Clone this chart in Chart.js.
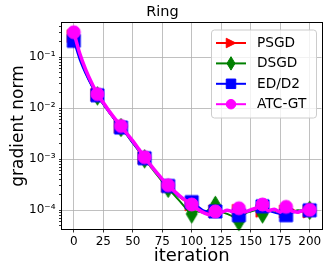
<!DOCTYPE html>
<html>
<head>
<meta charset="utf-8">
<script src="https://cdn.jsdelivr.net/npm/chart.js@4"></script>
<style>
  html, body { margin: 0; padding: 0; background: #fff; }
</style>
</head>
<body>
<canvas id="chart" width="332" height="275"></canvas>
<script>
// iterations sampled every 5 steps, markers every 20
const iterations = [0, 5, 10, 15, 20, 25, 30, 35, 40, 45, 50, 55, 60, 65, 70, 75, 80, 85, 90, 95, 100,
  105, 110, 115, 120, 125, 130, 135, 140, 145, 150, 155, 160, 165, 170, 175, 180, 185, 190, 195, 200];

const psgd = [0.26, 0.105, 0.052, 0.03, 0.0185, 0.0125, 0.0086, 0.006, 0.0044, 0.0031, 0.0022, 0.00155, 0.00108, 0.00077, 0.00055, 0.0004, 0.0003, 0.00023, 0.00018, 0.00015, 0.00013,
  0.000108, 0.000095, 0.000092, 0.000096, 0.000093, 0.0001, 0.000094, 0.000098, 0.000092, 0.0001, 0.000105, 0.000098, 0.000102, 0.0001, 0.00009, 0.000095, 0.000105, 0.00009, 0.000096, 0.000095];
const dsgd = [0.24, 0.1, 0.05, 0.029, 0.0175, 0.012, 0.0083, 0.0058, 0.0042, 0.003, 0.0021, 0.00148, 0.00102, 0.00072, 0.00051, 0.00037, 0.00027, 0.0002, 0.00015, 0.00011, 0.000085,
  0.000095, 0.00009, 0.000105, 0.000125, 0.000095, 0.000085, 0.000075, 0.00006, 0.000085, 0.000095, 0.0001, 0.000085, 0.000095, 0.0001, 0.000095, 0.0001, 0.000095, 0.0001, 0.000098, 0.0001];
const edd2 = [0.21, 0.09, 0.048, 0.028, 0.018, 0.012, 0.0083, 0.0058, 0.0042, 0.003, 0.0021, 0.0015, 0.00105, 0.00075, 0.00054, 0.0004, 0.0003, 0.00023, 0.00018, 0.00016, 0.000145,
  0.00012, 0.0001, 0.000095, 0.000095, 0.000092, 0.0001, 0.00009, 0.00008, 0.00009, 0.0001, 0.00011, 0.00012, 0.0001, 0.00009, 0.000085, 0.00008, 0.00009, 0.000095, 0.0001, 0.0001];
const atcgt = [0.31, 0.12, 0.058, 0.032, 0.019, 0.013, 0.0088, 0.0062, 0.0045, 0.0032, 0.0023, 0.0016, 0.0011, 0.00078, 0.00056, 0.00041, 0.00031, 0.00024, 0.00019, 0.000155, 0.00013,
  0.000105, 0.00009, 0.000082, 0.000095, 0.000092, 0.0001, 0.000095, 0.00011, 0.000093, 0.000102, 0.000112, 0.00013, 0.000098, 0.000105, 0.000092, 0.000117, 0.000096, 0.000092, 0.0001, 0.000102];

const seriesNames = ['PSGD', 'DSGD', 'ED/D2', 'ATC-GT'];
const seriesColors = ['#ff0000', '#008000', '#0000ff', '#ff00ff'];
const seriesShapes = ['tri', 'thin', 'sq', 'circ'];
const xTicks = [0, 25, 50, 75, 100, 125, 150, 175, 200];

const FONT = "'DejaVu Sans', sans-serif";

function drawMarker(ctx, shape, x, y, ms, color) {
  ctx.save();
  ctx.fillStyle = color;
  ctx.strokeStyle = color;
  ctx.lineWidth = 1;
  ctx.beginPath();
  if (shape === 'tri') {
    ctx.moveTo(x + ms / 2, y);
    ctx.lineTo(x - ms / 2, y - ms / 2);
    ctx.lineTo(x - ms / 2, y + ms / 2);
    ctx.closePath();
  } else if (shape === 'thin') {
    const h = ms * Math.SQRT2, w = 0.6 * h;
    ctx.moveTo(x, y - h / 2);
    ctx.lineTo(x + w / 2, y);
    ctx.lineTo(x, y + h / 2);
    ctx.lineTo(x - w / 2, y);
    ctx.closePath();
  } else if (shape === 'sq') {
    ctx.rect(x - ms / 2, y - ms / 2, ms, ms);
  } else {
    ctx.arc(x, y, ms / 2, 0, Math.PI * 2);
  }
  ctx.fill();
  ctx.stroke();
  ctx.restore();
}

function markerImage(shape, color, ms) {
  const c = document.createElement('canvas');
  const s = Math.ceil(ms * 1.6) + 2;
  c.width = s; c.height = s;
  drawMarker(c.getContext('2d'), shape, s / 2, s / 2, ms, color);
  return c;
}

const sup = { '-': '\u207B', '0': '\u2070', '1': '\u00B9', '2': '\u00B2', '3': '\u00B3', '4': '\u2074',
  '5': '\u2075', '6': '\u2076', '7': '\u2077', '8': '\u2078', '9': '\u2079' };
const isDecade = v => Math.abs(Math.log10(v) - Math.round(Math.log10(v))) < 1e-6;

const frameAndLegend = {
  id: 'frameAndLegend',
  afterDatasetsDraw(chart) {
    const { ctx, chartArea: a } = chart;
    ctx.save();
    ctx.strokeStyle = '#000';
    ctx.lineWidth = 1;
    ctx.strokeRect(Math.round(a.left) - 0.5, Math.round(a.top) - 0.5, Math.round(a.right - a.left) + 1, Math.round(a.bottom - a.top) + 1);
    ctx.restore();
  },
  afterDraw(chart) {
    const { ctx, chartArea: a } = chart;
    const bx = a.right - 110, by = a.top + 7, bw = 105, bh = 88;
    ctx.save();
    ctx.beginPath();
    ctx.roundRect(bx, by, bw, bh, 3);
    ctx.fillStyle = 'rgba(255,255,255,0.8)';
    ctx.fill();
    ctx.strokeStyle = '#cccccc';
    ctx.lineWidth = 1;
    ctx.stroke();
    ctx.font = '13.7px ' + FONT;
    ctx.textBaseline = 'middle';
    ctx.textAlign = 'left';
    seriesNames.forEach((name, i) => {
      const y = by + 13 + i * 20.4;
      ctx.strokeStyle = seriesColors[i];
      ctx.lineWidth = 2;
      ctx.beginPath();
      ctx.moveTo(bx + 4.5, y);
      ctx.lineTo(bx + 34.5, y);
      ctx.stroke();
      drawMarker(ctx, seriesShapes[i], bx + 19.5, y, 9.5, seriesColors[i]);
      ctx.fillStyle = '#000';
      ctx.fillText(name, bx + 45.5, y + 0.5);
    });
    ctx.restore();
  }
};

const allSeries = [psgd, dsgd, edd2, atcgt];
const widths = [2, 2, 2, 3.5];

const datasets = allSeries.map((vals, i) => {
  const img = markerImage(seriesShapes[i], seriesColors[i], 13);
  return {
    label: seriesNames[i],
    data: iterations.map((x, k) => ({ x: x, y: vals[k] })),
    borderColor: seriesColors[i],
    backgroundColor: seriesColors[i],
    borderWidth: widths[i],
    cubicInterpolationMode: 'monotone',
    pointStyle: img,
    pointRadius: c => (iterations[c.dataIndex] % 20 === 0 ? 7 : 0),
    pointHoverRadius: 0,
    order: 4 - i,
    clip: false
  };
});

new Chart(document.getElementById('chart'), {
  type: 'line',
  data: { datasets: datasets },
  plugins: [frameAndLegend],
  options: {
    responsive: false,
    animation: false,
    events: [],
    layout: { padding: { left: 0, right: 7, top: 0, bottom: 0 } },
    plugins: {
      legend: { display: false },
      tooltip: { enabled: false },
      title: {
        display: true,
        text: 'Ring',
        color: '#000',
        font: { family: FONT, size: 14.5, weight: 'normal', lineHeight: 1.2 },
        padding: { top: 4, bottom: 1.6 }
      }
    },
    scales: {
      x: {
        type: 'linear',
        min: -10,
        max: 210,
        afterFit: s => { s.height = 46; },
        afterBuildTicks: s => { s.ticks = xTicks.map(v => ({ value: v })); },
        grid: { color: '#b0b0b0', lineWidth: 0.8, tickColor: '#000', tickLength: 3.5 },
        border: { display: false },
        ticks: { color: '#000', font: { family: FONT, size: 12 }, padding: 2, maxRotation: 0, autoSkip: false },
        title: {
          display: true,
          text: 'iteration',
          color: '#000',
          font: { family: FONT, size: 18, lineHeight: 1.2 },
          padding: { top: 0, bottom: 7.5 }
        }
      },
      y: {
        type: 'logarithmic',
        min: 4.3e-5,
        max: 0.47,
        afterFit: s => { s.width = 62; },
        afterBuildTicks: s => {
          s.ticks = s.ticks.filter(t => {
            const m = t.value / Math.pow(10, Math.floor(Math.log10(t.value) + 1e-9));
            return Math.abs(m - Math.round(m)) < 1e-6 && t.value >= 4.3e-5 && t.value <= 0.47;
          });
        },
        grid: {
          color: c => (c.tick && isDecade(c.tick.value) ? '#b0b0b0' : 'rgba(0,0,0,0)'),
          lineWidth: 0.8,
          tickColor: '#000',
          tickLength: 3
        },
        border: { display: false },
        ticks: {
          color: '#000',
          font: { family: FONT, size: 12 },
          padding: 3.5,
          autoSkip: false,
          callback: v => {
            if (!isDecade(v)) return '';
            const e = String(Math.round(Math.log10(v)));
            return '10' + e.split('').map(ch => sup[ch]).join('');
          }
        },
        title: {
          display: true,
          text: 'gradient norm',
          color: '#000',
          font: { family: FONT, size: 17, lineHeight: 1.2 },
          padding: { top: 8.8, bottom: 0 }
        }
      }
    }
  }
});
</script>
</body>
</html>
